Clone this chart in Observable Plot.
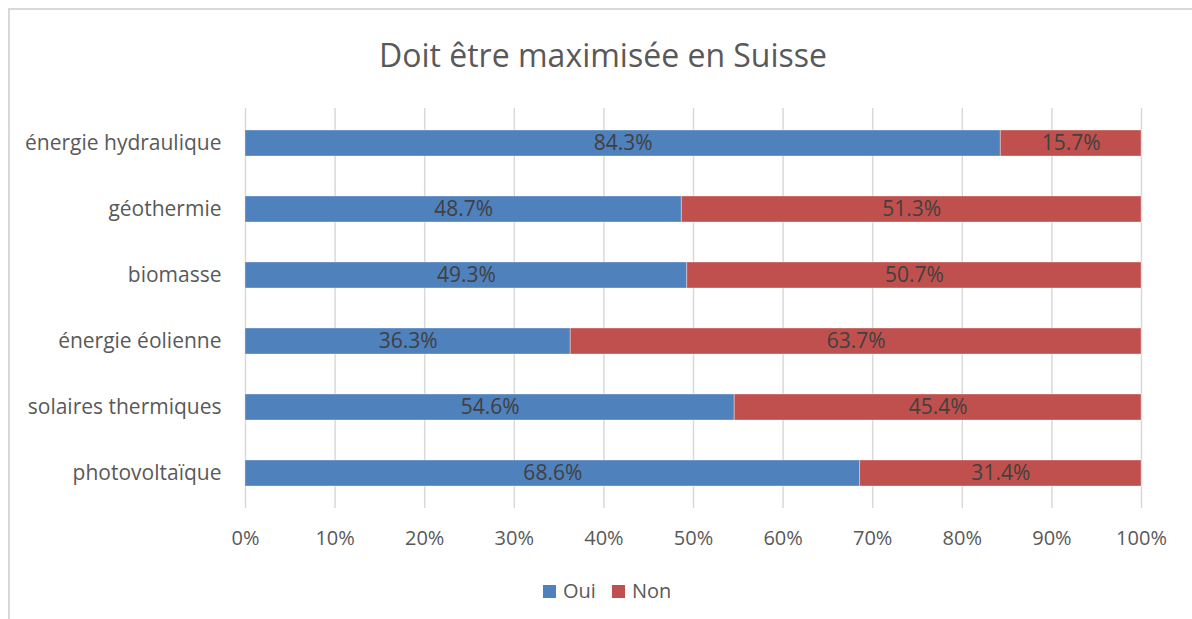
<!DOCTYPE html>
<html>
<head>
<meta charset="utf-8">
<script src="https://cdn.jsdelivr.net/npm/d3@7"></script>
<script src="https://cdn.jsdelivr.net/npm/@observablehq/plot@0.6"></script>
<style>
  body { margin: 0; background: #fff; font-family: "Open Sans", sans-serif; }
  #wrap { position: relative; width: 1192px; height: 619px; overflow: hidden; }
  #frame { position: absolute; left: 8px; top: 8px; width: 1400px; height: 800px;
           border-top: 2px solid #d9d9d9; border-left: 2px solid #d9d9d9; }
  #title { position: absolute; left: 0; width: 1206px; top: 33px; text-align: center;
           font-size: 32px; color: #595959; line-height: 44px; }
  #chart { position: absolute; left: 0; top: 0; }
  #legend { position: absolute; top: 577px; left: 543px; font-size: 20px; color: #595959;
            display: flex; align-items: center; line-height: 28px; }
  .sw { display: inline-block; width: 13px; height: 13px; margin-right: 7px; }
  .item { display: flex; align-items: center; margin-right: 16px; }
</style>
</head>
<body>
<div id="wrap">
  <div id="frame"></div>
  <div id="chart"></div>
  <div id="title">Doit être maximisée en Suisse</div>
  <div id="legend"></div>
</div>
<script>
const categories = ["énergie hydraulique", "géothermie", "biomasse", "énergie éolienne", "solaires thermiques", "photovoltaïque"];
const oui = [84.3, 48.7, 49.3, 36.3, 54.6, 68.6];
const non = [15.7, 51.3, 50.7, 63.7, 45.4, 31.4];
const seriesNames = ["Oui", "Non"];
const seriesColors = ["#4F81BD", "#C0504D"];
const xTicks = [0, 10, 20, 30, 40, 50, 60, 70, 80, 90, 100];

const rows = [];
categories.forEach((c, i) => {
  rows.push({cat: c, series: "Oui", value: oui[i]});
  rows.push({cat: c, series: "Non", value: non[i]});
});

const chart = Plot.plot({
  width: 1192,
  height: 619,
  marginTop: 108,
  marginBottom: 111,
  marginLeft: 245,
  marginRight: 51,
  style: {background: "transparent", fontFamily: "'Open Sans', sans-serif", fontSize: "20px", color: "#595959"},
  x: {domain: [0, 100], ticks: xTicks, tickFormat: d => d + "%", tickSize: 0, tickPadding: 22, label: null},
  y: {domain: categories, paddingInner: 0.61, paddingOuter: 0.305, tickSize: 0, tickPadding: 24, label: null},
  color: {domain: seriesNames, range: seriesColors},
  marks: [
    Plot.ruleX(xTicks, {x: d => d, stroke: "#d9d9d9", strokeWidth: 1.5}),
    Plot.axisY({tickSize: 0, tickPadding: 24, fontSize: 21, label: null}),
    Plot.barX(rows, Plot.stackX({x: "value", y: "cat", fill: "series", order: seriesNames, stroke: "#ffffff", strokeOpacity: 0.35, strokeWidth: 1})),
    Plot.text(rows, Plot.stackX({x: "value", y: "cat", z: "series", order: seriesNames, text: d => d.value.toFixed(1) + "%", fill: "#404040", fontSize: 21}))
  ]
});
document.getElementById("chart").appendChild(chart);

const legend = document.getElementById("legend");
seriesNames.forEach((s, i) => {
  const item = document.createElement("span");
  item.className = "item";
  item.innerHTML = `<span class="sw" style="background:${seriesColors[i]}"></span>${s}`;
  legend.appendChild(item);
});
</script>
</body>
</html>
